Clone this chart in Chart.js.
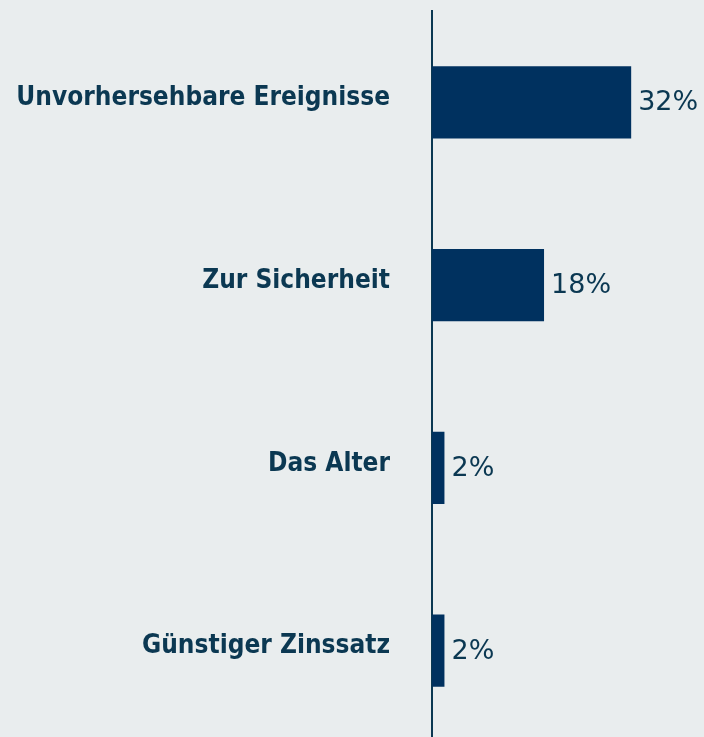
<!DOCTYPE html>
<html>
<head>
<meta charset="utf-8">
<script src="https://cdn.jsdelivr.net/npm/chart.js@4/dist/chart.umd.min.js"></script>
<style>
  html, body { margin: 0; padding: 0; background: #e9edee; overflow: hidden; }
  #wrap { width: 704px; height: 742px; position: relative; }
</style>
</head>
<body>
<div id="wrap"><canvas id="chart"></canvas></div>
<script>
const categories = ['Unvorhersehbare Ereignisse', 'Zur Sicherheit', 'Das Alter', 'Günstiger Zinssatz'];
const shares = [32, 18, 2, 2];

const textColor = '#0b3852';

// value label right of every bar
const valueLabels = {
  id: 'valueLabels',
  afterDatasetsDraw(chart) {
    const ctx = chart.ctx;
    const meta = chart.getDatasetMeta(0);
    ctx.save();
    ctx.font = '27px "DejaVu Sans"';
    ctx.fillStyle = textColor;
    ctx.textAlign = 'left';
    ctx.textBaseline = 'middle';
    meta.data.forEach((bar, i) => {
      ctx.fillText(shares[i] + '%', bar.x + 7, bar.y + 1);
    });
    ctx.restore();
  }
};

new Chart(document.getElementById('chart'), {
  type: 'bar',
  data: {
    labels: categories,
    datasets: [{
      data: shares,
      backgroundColor: '#00315f',
      barPercentage: 0.79,
      categoryPercentage: 0.5
    }]
  },
  options: {
    indexAxis: 'y',
    responsive: true,
    maintainAspectRatio: false,
    animation: false,
    layout: { padding: { left: 14, top: 11, right: 0, bottom: 0 } },
    plugins: {
      legend: { display: false },
      tooltip: { enabled: false }
    },
    scales: {
      x: {
        min: 0,
        max: 43.7,
        display: false
      },
      y: {
        grid: { display: false, drawTicks: false },
        border: { display: true, color: '#0b3852', width: 2 },
        ticks: {
          color: textColor,
          font: { family: '"DejaVu Sans Condensed", "DejaVu Sans"', weight: 'bold', size: 26 },
          padding: 42,
          labelOffset: -4
        },
        afterFit(scale) {
          scale.width = 418;
          scale.paddingTop = 0;
          scale.paddingBottom = 0;
        }
      }
    }
  },
  plugins: [valueLabels]
});
</script>
</body>
</html>
